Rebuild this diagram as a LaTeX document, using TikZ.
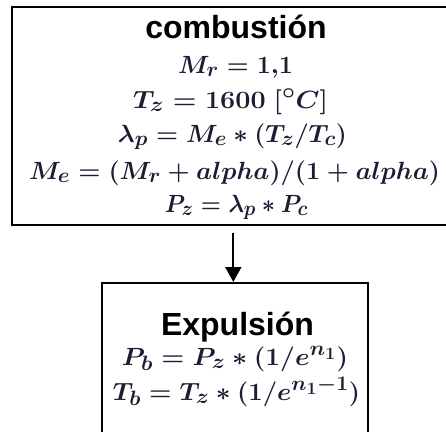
\documentclass[tikz,border=0pt]{standalone}
\usepackage{fontspec}
\usepackage{graphicx}
\newfontfamily\titlefont{Liberation Sans}
\usetikzlibrary{arrows.meta}
\definecolor{mathcol}{HTML}{1C1C34}
\DeclareMathSizes{24}{24}{20}{16}
\newcommand\mline[2]{\resizebox{#1}{\height}{\boldmath$#2$}}
\begin{document}
\begin{tikzpicture}[x=1pt,y=-1pt,
  boxframe/.style={draw=black, line width=2pt, inner sep=0pt, anchor=north west},
  titletext/.style={anchor=base, inner sep=0pt, font=\titlefont\bfseries\fontsize{32}{36}\selectfont},
  mathtext/.style={anchor=base, inner sep=0pt, text=mathcol, font=\fontsize{24}{28}\selectfont},
  flow/.style={draw=black, line width=2pt, -{Triangle[width=16pt,length=15pt]}}]
\useasboundingbox (0,0) rectangle (446,431);
\clip (0,0) rectangle (446,431);
\fill[white] (0,0) rectangle (446,431);
\node[boxframe, minimum width=450pt, minimum height=218pt] (comb) at (11,6) {};
\node[boxframe, minimum width=266pt, minimum height=170pt] (expu) at (101,282) {};
\node[titletext] (t1) at (236,38) {combusti\'on};
\node[mathtext] (m1) at (235.5,73) {\mline{115pt}{M_r = 1{,}1}};
\node[mathtext] (m2) at (230.5,108) {\mline{195pt}{T_z = 1600\ [{}^{\circ}C]}};
\node[mathtext] (m3) at (232.5,142) {\mline{229pt}{\lambda_p = M_e * (T_z/T_c)}};
\node[mathtext] (m4) at (234.5,179) {\mline{411pt}{M_e = (M_r + alpha)/(1 + alpha)}};
\node[mathtext] (m5) at (236.5,212) {\mline{143pt}{P_z = \lambda_p * P_c}};
\node[titletext] (t2) at (237.5,335) {Expulsi\'on};
\node[mathtext] (m6) at (235,365) {\mline{226pt}{P_b = P_z * (1/e^{n_1})}};
\node[mathtext] (m7) at (236.5,400) {\mline{247pt}{T_b = T_z * (1/e^{n_1 - 1})}};
\draw[flow, shorten <=7pt] (comb.south -| 233.3,0) -- (expu.north -| 233.3,0);
\end{tikzpicture}
\end{document}
